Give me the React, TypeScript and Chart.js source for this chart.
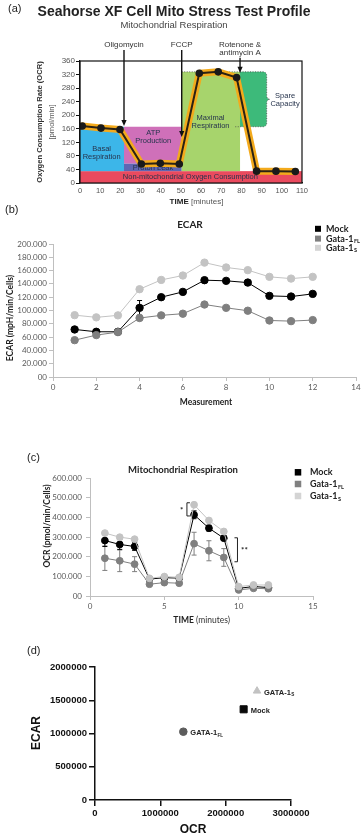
import React, { useEffect, useRef } from "react";
import { Chart, registerables } from "chart.js";
Chart.register(...registerables);

const W = 364;
const FA = '"Liberation Sans", Arial, sans-serif';
const FL = 'Lato, "Liberation Sans", sans-serif';

// ---------------- Panel (a): Seahorse profile ----------------
const profileTime = [1.1, 10.4, 19.8, 30.4, 39.8, 49.2, 59.1, 68.5, 77.6, 87.5, 97.1, 106.7];
const profileOCR = [168, 162, 158, 56, 58, 56, 324, 328, 311, 35, 35, 34];
const profileXTicks = [0, 10, 20, 30, 40, 50, 60, 70, 80, 90, 100, 110];
const profileYTicks = [0, 40, 80, 120, 160, 200, 240, 280, 320, 360];

const injectionNames = ["Oligomycin", "FCCP", "Rotenone &\nantimycin A"];
const injectionTimes = [21.8, 50.4, 79.3];
const injectionTips = [168, 136, 325];

const regionNames = [
  "Non-mitochondrial Oxygen Consumption",
  "Basal\nRespiration",
  "ATP\nProduction",
  "Proton Leak",
  "Maximal\nRespiration",
  "Spare\nCapacity",
];
const regionStart = [0, 0, 21.8, 21.8, 50.4, 79.3];
const regionEnd = [110, 21.8, 50.4, 50.4, 79.3, 92.5];
const regionLow = [0, 35, 57, 35, 35, 166];
const regionHigh = [35, 166, 166, 57, 328, 328];
const regionLabelX = [54.7, 10.7, 36.3, 36.2, 64.7, 101.6];
const regionLabelY = [18.5, 88, 135, 43, 180, 246];
const regionColors = ["#ea4a5e", "#3cb6e9", "#cf70b9", "#5f66b3", "#a7d46c", "#3dba7a"];

// ---------------- Panels (b) and (c): series ----------------
const seriesNames = ["Mock", "Gata-1", "Gata-1"];
const seriesSubs = ["", "FL", "S"];
const seriesColors = ["#000000", "#7f7f7f", "#c3c3c3"];
const legendColors = ["#000000", "#808080", "#d4d4d4"];

const measurements = [1, 2, 3, 4, 5, 6, 7, 8, 9, 10, 11, 12];
const measurementTicks = [0, 2, 4, 6, 8, 10, 12, 14];
const ecarTicks = [0, 20, 40, 60, 80, 100, 120, 140, 160, 180, 200];
const ecarMock = [71.5, 68, 68, 104, 120, 128, 145.6, 144.6, 142, 122, 121, 125];
const ecarFL = [55.4, 63, 67.5, 88.7, 92.7, 95.2, 109, 104, 99.7, 85, 84, 85.6];
const ecarS = [93, 89.7, 92.7, 132, 146, 152.6, 172, 164.7, 160.7, 150.6, 148, 150.6];
const ecarMockErr = [0, 0, 0, 11, 0, 0, 0, 0, 0, 0, 0, 0];

const timeTicks = [0, 5, 10, 15];
const ocrTicks = [0, 100, 200, 300, 400, 500, 600];
const ocrMock = [282, 262, 252, 86, 93, 91, 413, 345, 294, 39, 48, 43];
const ocrFL = [192, 179, 162, 60, 68, 65, 266, 230, 196, 31, 39, 37];
const ocrS = [320, 299, 289, 90, 99, 95, 464, 384, 328, 48, 56, 56];
const ocrMockErr = [30, 25, 20, 0, 0, 0, 20, 15, 12, 0, 0, 0];
const ocrFLErr = [62, 55, 38, 0, 0, 0, 58, 51, 45, 0, 0, 0];

const sigLabels = ["*", "**"];
const sigX = [6.52, 9.92];
const sigLow = [407, 174];
const sigHigh = [474, 296];
const sigSide = [-1, 1];

// ---------------- Panel (d) ----------------
const dNames = ["GATA-1", "Mock", "GATA-1"];
const dSubs = ["S", "", "FL"];
const dOCR = [2480000, 2275000, 1352000];
const dECAR = [1640000, 1364000, 1027000];
const dXTicks = [0, 1000000, 2000000, 3000000];
const dYTicks = [0, 500000, 1000000, 1500000, 2000000];
const dStyles = ["triangle", "rect", "circle"];
const dColors = ["#c2c2c2", "#0a0a0a", "#5c5c5c"];
const dRadius = [4.3, 5, 3.8];

// ---------------- helpers ----------------
function put(ctx: any, s: string, x: number, y: number, font: string, color: string, align: any = "center", rot = 0) {
  ctx.save();
  ctx.font = font;
  ctx.fillStyle = color;
  ctx.textAlign = align;
  ctx.textBaseline = "middle";
  ctx.translate(x, y);
  if (rot) ctx.rotate(rot);
  ctx.fillText(s, 0, 0);
  ctx.restore();
}

function putSub(ctx: any, base: string, sub: string, x: number, y: number, size: number, weight: string, family: string, color: string) {
  ctx.save();
  ctx.fillStyle = color;
  ctx.textBaseline = "middle";
  ctx.textAlign = "left";
  ctx.font = `${weight} ${size}px ${family}`;
  ctx.fillText(base, x, y);
  if (sub) {
    const w = ctx.measureText(base).width;
    ctx.font = `${weight} ${size * 0.62}px ${family}`;
    ctx.fillText(sub, x + w + 0.4, y + size * 0.32);
  }
  ctx.restore();
}

function putMixed(ctx: any, parts: [string, string, string][], cx: number, y: number) {
  ctx.save();
  ctx.textBaseline = "middle";
  ctx.textAlign = "left";
  let total = 0;
  parts.forEach(([t, f]) => {
    ctx.font = f;
    total += ctx.measureText(t).width;
  });
  let x = cx - total / 2;
  parts.forEach(([t, f, c]) => {
    ctx.font = f;
    ctx.fillStyle = c;
    ctx.fillText(t, x, y);
    x += ctx.measureText(t).width;
  });
  ctx.restore();
}

const tickList = (arr: number[]) => (s: any) => {
  s.ticks = arr.map((v) => ({ value: v }));
};

const errorBarPlugin = {
  id: "errbars",
  beforeDatasetsDraw(chart: any) {
    const { ctx, scales } = chart;
    const x = scales.x, y = scales.y;
    chart.data.datasets.forEach((ds: any) => {
      if (!ds.errorBars) return;
      ctx.save();
      ctx.strokeStyle = ds.borderColor;
      ctx.lineWidth = 1;
      ds.data.forEach((p: any, i: number) => {
        const e = ds.errorBars[i];
        if (!e) return;
        const px = x.getPixelForValue(p.x);
        const yt = y.getPixelForValue(p.y + e);
        const yb = y.getPixelForValue(p.y - e);
        ctx.beginPath();
        ctx.moveTo(px, yt);
        ctx.lineTo(px, yb);
        ctx.moveTo(px - 2.5, yt);
        ctx.lineTo(px + 2.5, yt);
        ctx.moveTo(px - 2.5, yb);
        ctx.lineTo(px + 2.5, yb);
        ctx.stroke();
      });
      ctx.restore();
    });
  },
};

// ---------------- Panel (a) config ----------------
const A_TOP = 0, A_H = 210;
const pluginA = {
  id: "panelA",
  beforeDatasetsDraw(chart: any) {
    const { ctx, scales } = chart;
    const X = (v: number) => scales.x.getPixelForValue(v);
    const Y = (v: number) => scales.y.getPixelForValue(v);
    ctx.save();
    regionNames.forEach((_, i) => {
      if (i === 5) return;
      ctx.fillStyle = regionColors[i];
      ctx.fillRect(X(regionStart[i]), Y(regionHigh[i]), X(regionEnd[i]) - X(regionStart[i]), Y(regionLow[i]) - Y(regionHigh[i]));
    });
    const sx0 = X(regionStart[5]), sx1 = X(regionEnd[5]);
    const st = Y(regionHigh[5]), sb = Y(regionLow[5]), sm = (st + sb) / 2, r = 4;
    const sparePath = () => {
      ctx.beginPath();
      ctx.moveTo(sx0, st);
      ctx.lineTo(sx1 - r, st);
      ctx.quadraticCurveTo(sx1, st, sx1, st + r);
      ctx.lineTo(sx1, sm - 4);
      ctx.quadraticCurveTo(sx1, sm, sx1 + 3.5, sm);
      ctx.quadraticCurveTo(sx1, sm, sx1, sm + 4);
      ctx.lineTo(sx1, sb - r);
      ctx.quadraticCurveTo(sx1, sb, sx1 - r, sb);
      ctx.lineTo(sx0, sb);
    };
    sparePath();
    ctx.closePath();
    ctx.fillStyle = regionColors[5];
    ctx.fill();
    ctx.setLineDash([1, 1.5]);
    ctx.strokeStyle = "#4a4a4a";
    ctx.lineWidth = 0.8;
    ctx.beginPath();
    ctx.moveTo(X(regionStart[4]), st);
    ctx.lineTo(sx0, st);
    ctx.stroke();
    sparePath();
    ctx.lineTo(sx0 - 6, sb);
    ctx.stroke();
    ctx.setLineDash([]);
    regionNames.forEach((name, i) => {
      const lines = name.split("\n");
      lines.forEach((ln, k) =>
        put(ctx, ln, X(regionLabelX[i]), Y(regionLabelY[i]) + (k - (lines.length - 1) / 2) * 8, `7.5px ${FA}`, "#27344d")
      );
    });
    ctx.restore();
  },
  afterDatasetsDraw(chart: any) {
    const { ctx, scales, chartArea } = chart;
    const X = (v: number) => scales.x.getPixelForValue(v);
    const Y = (v: number) => scales.y.getPixelForValue(v);
    ctx.save();
    ctx.strokeStyle = "#111";
    ctx.lineWidth = 1.2;
    ctx.strokeRect(chartArea.left, chartArea.top, chartArea.right - chartArea.left, chartArea.bottom - chartArea.top);
    injectionNames.forEach((name, i) => {
      const lines = name.split("\n");
      const xp = X(injectionTimes[i]);
      lines.forEach((ln, k) => put(ctx, ln, xp, chartArea.top - 16 + k * 7.7, `8px ${FA}`, "#333"));
      const yTop = chartArea.top - 16 + (lines.length - 1) * 7.7 + 5;
      const yTip = Y(injectionTips[i]);
      ctx.strokeStyle = "#111";
      ctx.fillStyle = "#111";
      ctx.lineWidth = 1.4;
      ctx.beginPath();
      ctx.moveTo(xp, yTop);
      ctx.lineTo(xp, yTip - 5);
      ctx.stroke();
      ctx.beginPath();
      ctx.moveTo(xp, yTip);
      ctx.lineTo(xp - 2.6, yTip - 6);
      ctx.lineTo(xp + 2.6, yTip - 6);
      ctx.closePath();
      ctx.fill();
    });
    ctx.restore();
  },
  afterDraw(chart: any) {
    const ctx = chart.ctx;
    ctx.save();
    ctx.translate(0, -A_TOP);
    put(ctx, "(a)", 8, 9, `11px ${FA}`, "#222", "left");
    put(ctx, "Seahorse XF Cell Mito Stress Test Profile", 174, 12, `bold 14px ${FA}`, "#222");
    put(ctx, "Mitochondrial Respiration", 174, 25, `9.5px ${FA}`, "#444");
    put(ctx, "Oxygen Consumption Rate (OCR)", 40, 122, `bold 7.6px ${FA}`, "#333", "center", -Math.PI / 2);
    put(ctx, "[pmol/min]", 52, 122, `7.6px ${FA}`, "#555", "center", -Math.PI / 2);
    putMixed(ctx, [["TIME ", `bold 8px ${FA}`, "#222"], ["[minutes]", `8px ${FA}`, "#555"]], 196.5, 201.5);
    ctx.restore();
  },
};

const makeA = () => ({
  type: "line",
  data: {
    datasets: [
      {
        data: profileTime.map((t, i) => ({ x: t, y: profileOCR[i] })),
        borderColor: "#2b2214",
        borderWidth: 2,
        pointRadius: 2.8,
        pointBackgroundColor: "#1a1a1a",
        pointBorderColor: "#1a1a1a",
        tension: 0,
      },
      {
        data: profileTime.map((t, i) => ({ x: t, y: profileOCR[i] })),
        borderColor: "#f3aa1c",
        borderWidth: 7,
        borderJoinStyle: "round",
        borderCapStyle: "round",
        pointRadius: 0,
        tension: 0,
      },
    ],
  },
  options: {
    responsive: false,
    animation: false,
    layout: { padding: { top: 61, right: 62, left: 50, bottom: 15 } },
    plugins: { legend: { display: false }, tooltip: { enabled: false } },
    scales: {
      x: {
        type: "linear",
        min: 0,
        max: 110,
        afterBuildTicks: tickList(profileXTicks),
        ticks: { font: { family: FA, size: 7.5 }, color: "#555", padding: 3, autoSkip: false, maxRotation: 0 },
        grid: { display: false, drawTicks: false },
        border: { display: true, color: "#111", width: 1.2 },
        afterFit: (s: any) => { s.height = 12; },
      },
      y: {
        min: 0,
        max: 360,
        afterBuildTicks: tickList(profileYTicks),
        ticks: { font: { family: FA, size: 8 }, color: "#555", padding: 1 },
        grid: { display: true, drawOnChartArea: false, drawTicks: true, tickLength: 4, color: "#111" },
        border: { display: true, color: "#111", width: 1.2 },
        afterFit: (s: any) => { s.width = 30; },
      },
    },
  },
  plugins: [pluginA],
});

// ---------------- Panels (b), (c) ----------------
function legend(ctx: any, sqX: number, textX: number, ys: number[], sq: number) {
  seriesNames.forEach((n, i) => {
    ctx.fillStyle = legendColors[i];
    ctx.fillRect(sqX - sq / 2, ys[i] - sq / 2, sq, sq);
    putSub(ctx, n, seriesSubs[i], textX, ys[i], 9, "bold", FL, "#222");
  });
}

function seriesDataset(values: number[], i: number, errors: number[] | null, radius: number) {
  return {
    data: measurements.map((m, k) => ({ x: m, y: values[k] })),
    borderColor: seriesColors[i],
    backgroundColor: seriesColors[i],
    borderWidth: 1,
    pointRadius: radius,
    pointBackgroundColor: seriesColors[i],
    pointBorderColor: seriesColors[i],
    tension: 0,
    errorBars: errors,
  };
}

function excelScales(xMax: number, xTicks: number[], yMax: number, yTicks: number[], yW: number, yPad: number) {
  const ax = "#bfbfbf";
  return {
    x: {
      type: "linear",
      min: 0,
      max: xMax,
      afterBuildTicks: tickList(xTicks),
      ticks: { font: { family: FL, size: 8 }, color: "#595959", padding: 2, autoSkip: false, maxRotation: 0 },
      grid: { display: true, drawOnChartArea: false, drawTicks: true, tickLength: 4, color: ax },
      border: { display: true, color: ax, width: 1 },
      afterFit: (s: any) => { s.height = 16; },
    },
    y: {
      min: 0,
      max: yMax,
      afterBuildTicks: tickList(yTicks),
      ticks: {
        font: { family: FL, size: 8 },
        color: "#595959",
        padding: yPad,
        callback: (v: any) => (Number(v) === 0 ? "00" : Number(v).toFixed(3)),
      },
      grid: { display: true, drawOnChartArea: false, drawTicks: true, tickLength: 4, color: ax },
      border: { display: true, color: ax, width: 1 },
      afterFit: (s: any) => { s.width = yW; },
    },
  };
}

const B_TOP = 205, B_H = 205;
const pluginB = {
  id: "panelB",
  afterDraw(chart: any) {
    const ctx = chart.ctx;
    ctx.save();
    ctx.translate(0, -B_TOP);
    put(ctx, "(b)", 5, 210, `11px ${FA}`, "#222", "left");
    put(ctx, "ECAR", 190, 225, `bold 10px ${FL}`, "#222");
    legend(ctx, 318, 326, [228.8, 238.6, 247.8], 6);
    put(ctx, "ECAR (mpH/min/Cells)", 10, 318, `bold 8.5px ${FL}`, "#222", "center", -Math.PI / 2);
    put(ctx, "Measurement", 206, 402, `bold 8.5px ${FL}`, "#222");
    ctx.restore();
  },
};

const makeB = () => ({
  type: "line",
  data: {
    datasets: [
      seriesDataset(ecarFL, 1, null, 3.7),
      seriesDataset(ecarMock, 0, ecarMockErr, 3.7),
      seriesDataset(ecarS, 2, null, 3.7),
    ],
  },
  options: {
    responsive: false,
    animation: false,
    layout: { padding: { top: 39, right: 8, left: 13, bottom: 17 } },
    plugins: { legend: { display: false }, tooltip: { enabled: false } },
    scales: excelScales(14, measurementTicks, 200, ecarTicks, 40, 2),
  },
  plugins: [errorBarPlugin, pluginB],
});

const C_TOP = 440, C_H = 195;
const pluginC = {
  id: "panelC",
  afterDatasetsDraw(chart: any) {
    const { ctx, scales } = chart;
    const X = (v: number) => scales.x.getPixelForValue(v);
    const Y = (v: number) => scales.y.getPixelForValue(v);
    ctx.save();
    ctx.strokeStyle = "#222";
    ctx.lineWidth = 1;
    sigLabels.forEach((lab, i) => {
      const xp = X(sigX[i]);
      const y0 = Y(sigHigh[i]), y1 = Y(sigLow[i]);
      const d = -sigSide[i] * 3;
      ctx.beginPath();
      ctx.moveTo(xp + d, y0);
      ctx.lineTo(xp, y0);
      ctx.lineTo(xp, y1);
      ctx.lineTo(xp + d, y1);
      ctx.stroke();
      put(ctx, lab, xp + sigSide[i] * 3.5, (y0 + y1) / 2 + 1, `bold 8px ${FL}`, "#222", sigSide[i] < 0 ? "right" : "left");
    });
    ctx.restore();
  },
  afterDraw(chart: any) {
    const ctx = chart.ctx;
    ctx.save();
    ctx.translate(0, -C_TOP);
    put(ctx, "(c)", 27, 458, `11px ${FA}`, "#222", "left");
    put(ctx, "Mitochondrial Respiration", 183, 470, `bold 9.5px ${FL}`, "#222");
    legend(ctx, 298, 310, [472.3, 484, 496], 6.5);
    put(ctx, "OCR (pmol/min/Cells)", 47.7, 526, `bold 8.5px ${FL}`, "#222", "center", -Math.PI / 2);
    putMixed(ctx, [["TIME", `bold 8.5px ${FL}`, "#222"], [" (minutes)", `8.5px ${FL}`, "#333"]], 201.7, 620);
    ctx.restore();
  },
};

const makeC = () => ({
  type: "line",
  data: {
    datasets: [
      seriesDataset(ocrS, 2, null, 3.4),
      seriesDataset(ocrFL, 1, ocrFLErr, 3.4),
      seriesDataset(ocrMock, 0, ocrMockErr, 3.4),
    ],
  },
  options: {
    responsive: false,
    animation: false,
    layout: { padding: { top: 38, right: 51, left: 45, bottom: 23 } },
    plugins: { legend: { display: false }, tooltip: { enabled: false } },
    scales: excelScales(15, timeTicks, 600, ocrTicks, 45, 4),
  },
  plugins: [errorBarPlugin, pluginC],
});

// ---------------- Panel (d) ----------------
const D_TOP = 640, D_H = 198;
const pluginD = {
  id: "panelD",
  afterDatasetsDraw(chart: any) {
    const { ctx, scales } = chart;
    dNames.forEach((n, i) => {
      const px = scales.x.getPixelForValue(dOCR[i]);
      const py = scales.y.getPixelForValue(dECAR[i]);
      putSub(ctx, n, dSubs[i], px + 7, py + 1.5, 7.5, "bold", FA, "#222");
    });
  },
  afterDraw(chart: any) {
    const ctx = chart.ctx;
    ctx.save();
    ctx.translate(0, -D_TOP);
    put(ctx, "(d)", 27, 651, `11px ${FA}`, "#222", "left");
    put(ctx, "ECAR", 37, 733, `bold 12px ${FA}`, "#111", "center", -Math.PI / 2);
    put(ctx, "OCR", 193, 830, `bold 12px ${FA}`, "#111");
    ctx.restore();
  },
};

const makeD = () => ({
  type: "scatter",
  data: {
    datasets: dNames.map((n, i) => ({
      label: n + dSubs[i],
      data: [{ x: dOCR[i], y: dECAR[i] }],
      pointStyle: dStyles[i],
      pointRadius: dRadius[i],
      backgroundColor: dColors[i],
      borderColor: dColors[i],
      borderWidth: 1,
    })),
  },
  options: {
    responsive: false,
    animation: false,
    layout: { padding: { top: 27, right: 73, left: 35, bottom: 18 } },
    plugins: { legend: { display: false }, tooltip: { enabled: false } },
    scales: {
      x: {
        type: "linear",
        min: 0,
        max: 3000000,
        afterBuildTicks: tickList(dXTicks),
        ticks: { font: { family: FA, size: 9.5, weight: "bold" }, color: "#111", padding: 2, autoSkip: false, maxRotation: 0, callback: (v: any) => String(v) },
        grid: { display: true, drawOnChartArea: false, drawTicks: true, tickLength: 6, color: "#111", lineWidth: 1.5 },
        border: { display: true, color: "#111", width: 1.5 },
        afterFit: (s: any) => { s.height = 20; },
      },
      y: {
        min: 0,
        max: 2000000,
        afterBuildTicks: tickList(dYTicks),
        ticks: { font: { family: FA, size: 9.5, weight: "bold" }, color: "#111", padding: 2, callback: (v: any) => String(v) },
        grid: { display: true, drawOnChartArea: false, drawTicks: true, tickLength: 6, color: "#111", lineWidth: 1.5 },
        border: { display: true, color: "#111", width: 1.5 },
        afterFit: (s: any) => { s.width = 60; },
      },
    },
  },
  plugins: [pluginD],
});

function Panel({ top, height, make }: { top: number; height: number; make: () => any }) {
  const ref = useRef<HTMLCanvasElement>(null);
  useEffect(() => {
    const chart = new Chart(ref.current as HTMLCanvasElement, make());
    return () => chart.destroy();
  }, []);
  return (
    <canvas
      ref={ref}
      width={W}
      height={height}
      style={{ position: "absolute", left: 0, top, width: W, height, display: "block" }}
    />
  );
}

export default function App() {
  return (
    <div style={{ position: "absolute", left: 0, top: 0, width: W, height: 838, background: "#fff", overflow: "hidden" }}>
      <Panel top={A_TOP} height={A_H} make={makeA} />
      <Panel top={B_TOP} height={B_H} make={makeB} />
      <Panel top={C_TOP} height={C_H} make={makeC} />
      <Panel top={D_TOP} height={D_H} make={makeD} />
    </div>
  );
}
